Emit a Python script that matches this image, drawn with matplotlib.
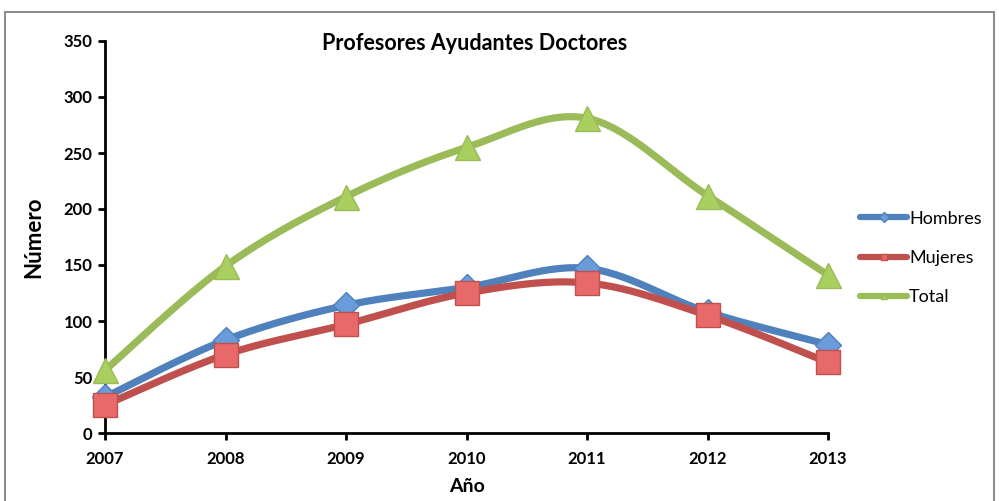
import numpy as np
from matplotlib import pyplot as plt
from matplotlib.lines import Line2D
from matplotlib.patches import Rectangle

years = [2007, 2008, 2009, 2010, 2011, 2012, 2013]
hombres = [32, 83, 114, 130, 147, 108, 79]
mujeres = [25, 70, 97, 125, 134, 105, 63]
total = [56, 149, 211, 255, 281, 212, 141]

series = [
    ('Hombres', hombres, '#4F81BD', '#6A9BDA', 'D', 13),
    ('Mujeres', mujeres, '#C0504D', '#E8696A', 's', 17),
    ('Total', total, '#9BBB59', '#A9CF5F', '^', 18),
]


def smooth(xs, ys, n=30):
    # bezier curve like the "smoothed line" option in a spreadsheet
    xs = np.asarray(xs, float)
    ys = np.asarray(ys, float)
    px = np.concatenate([[xs[0]], xs, [xs[-1]]])
    py = np.concatenate([[ys[0]], ys, [ys[-1]]])
    out_x, out_y = [], []
    t = np.linspace(0, 1, n)
    for i in range(1, len(px) - 2):
        p0 = np.array([px[i], py[i]])
        p3 = np.array([px[i + 1], py[i + 1]])
        c1 = p0 + (np.array([px[i + 1], py[i + 1]]) - np.array([px[i - 1], py[i - 1]])) / 6
        c2 = p3 - (np.array([px[i + 2], py[i + 2]]) - p0) / 6
        pts = ((1 - t) ** 3)[:, None] * p0 + (3 * (1 - t) ** 2 * t)[:, None] * c1 \
            + (3 * (1 - t) * t ** 2)[:, None] * c2 + (t ** 3)[:, None] * p3
        out_x.extend(pts[:, 0])
        out_y.extend(pts[:, 1])
    return out_x, out_y


plt.rcParams['font.family'] = ['Lato', 'DejaVu Sans']
fig = plt.figure(figsize=(9.99, 5.01), dpi=100)
ax = fig.add_axes([105 / 999, 1 - 433 / 501, (828 - 105) / 999, (433 - 41) / 501])

fig.patches.append(Rectangle((5 / 999, -0.05), 989 / 999, 1.05 - 12 / 501, transform=fig.transFigure,
                             fill=False, edgecolor='#8C8C8C', linewidth=1.5))

handles = []
for name, values, color, face, marker, size in series:
    sx, sy = smooth(years, values)
    ax.plot(sx, sy, color=color, linewidth=5.2, solid_capstyle='round', zorder=2)
    ax.plot(years, values, linestyle='none', marker=marker, markersize=size,
            markerfacecolor=face, markeredgecolor=color, markeredgewidth=1, zorder=3,
            clip_on=False)
    handles.append(Line2D([], [], color=color, linewidth=4.5, marker=marker, markersize=5,
                          markerfacecolor=face, markeredgecolor=color, solid_capstyle='round'))

ax.set_xlim(2007, 2013)
ax.set_ylim(0, 350)
ax.set_xticks(years)
ax.set_yticks(range(0, 351, 50))
for side in ('top', 'right'):
    ax.spines[side].set_visible(False)
for side in ('left', 'bottom'):
    ax.spines[side].set_linewidth(2)
ax.tick_params(width=2, length=5, labelsize=12, pad=4)
ax.tick_params(axis='x', pad=8)
for lab in ax.get_xticklabels() + ax.get_yticklabels():
    lab.set_fontweight('bold')

ax.set_xlabel('Año', fontsize=14, fontweight='bold', labelpad=8)
ax.set_ylabel('Número', fontsize=16, fontweight='bold', labelpad=14)
fig.text(475 / 999, 1 - 44 / 501, 'Profesores Ayudantes Doctores', ha='center', va='center',
         fontsize=15.5, fontweight='bold')

fig.legend(handles, [s[0] for s in series], loc='center left',
           bbox_to_anchor=(853 / 999, 1 - 258 / 501), frameon=False, fontsize=13,
           handlelength=2.6, handletextpad=0.1, labelspacing=1.3, borderaxespad=0)

fig.savefig('out.png', dpi=100)
